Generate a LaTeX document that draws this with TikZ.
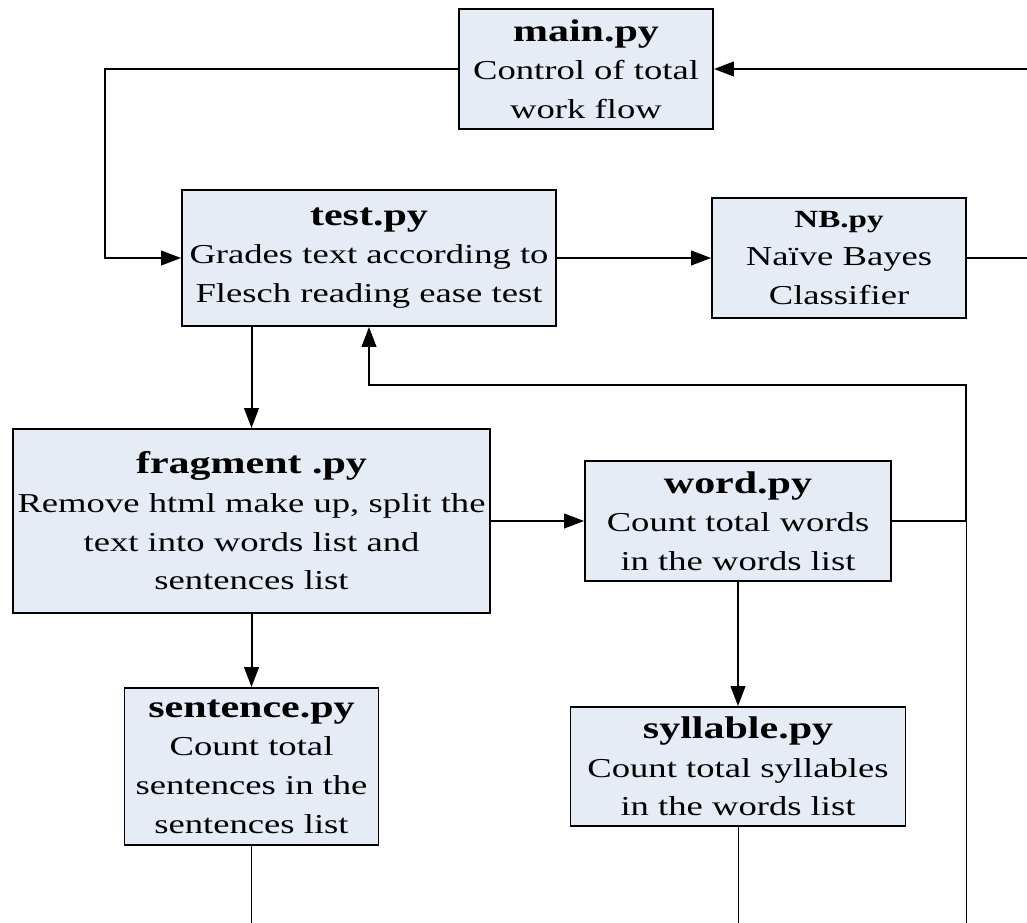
\documentclass[tikz,border=0pt]{standalone}
\usepackage{fontspec}
\setmainfont{Liberation Serif}[FakeStretch=1.34]
\usetikzlibrary{arrows.meta}
\definecolor{boxfill}{RGB}{230,236,246}
\newcommand\bodytext{\fontsize{20.5pt}{29pt}\selectfont}
\newcommand\headtext{\fontsize{23.5pt}{29pt}\selectfont\bfseries}
\newcommand\smallhead{\fontsize{18.5pt}{29pt}\selectfont\bfseries}
\tikzset{
  module/.style={draw=black, line width=1.4pt, fill=boxfill, align=center,
                 inner sep=0pt, font=\bodytext},
  flow/.style={line width=1.5pt, -{Triangle[length=15pt,width=11pt]}},
  wire/.style={line width=1.5pt},
  lead/.style={line width=0.6pt},
}
\begin{document}
\begin{tikzpicture}[x=0.75pt,y=-0.75pt]
  \path[fill=white, use as bounding box] (0,0) rectangle (1027,923);

  % modules
  \node[module, minimum width=190.5pt, minimum height=90pt] (main) at (586,69)
    {{\headtext main.py}\\Control of total\\work flow};
  \node[module, minimum width=280.5pt, minimum height=102pt] (test) at (369,258)
    {{\headtext test.py}\\Grades text according to\\Flesch reading ease test};
  \node[module, minimum width=190.5pt, minimum height=90pt] (nb) at (839,258)
    {{\smallhead NB.py}\\Naïve Bayes\\Classifier};
  \node[module, minimum width=357.75pt, minimum height=138pt] (frag) at (251.5,521)
    {{\headtext fragment .py}\\Remove html make up, split the\\text into words list and\\sentences list};
  \node[module, minimum width=229.5pt, minimum height=90pt] (word) at (738,521)
    {{\headtext word.py}\\Count total words\\in the words list};
  \node[module, minimum width=190.5pt, minimum height=117.75pt] (sent) at (251.5,766.5)
    {{\headtext sentence.py}\\Count total\\sentences in the\\sentences list};
  \node[module, minimum width=251.25pt, minimum height=89.25pt] (syl) at (738,766.5)
    {{\headtext syllable.py}\\Count total syllables\\in the words list};

  % routing points
  \coordinate (loopL) at (105,258);
  \coordinate (nbOut) at (1027,258);
  \coordinate (mainIn) at (1027,69);
  \coordinate (retR) at (966,385);
  \coordinate (retB) at (966,923);
  \coordinate (floor) at (0,923);

  % control flow
  \draw[flow] (main.west) -| (loopL) -- (test.west);
  \draw[flow] (test.east) -- (nb.west);
  \draw[wire] (nb.east) -- (nbOut);
  \draw[flow] (mainIn) -- (main.east);
  \draw[flow] (frag.north |- test.south) -- (frag.north);
  \draw[flow] (frag.east) -- (word.west);
  \draw[flow] (word.east) -| (retR) -| (test.south);
  \draw[flow] (frag.south) -- (sent.north);
  \draw[flow] (word.south) -- (syl.north);

  % leads running off the bottom
  \draw[lead] (sent.south) -- (sent.south |- floor);
  \draw[lead] (syl.south) -- (syl.south |- floor);
  \draw[lead] (word.east -| retB) -- (retB);
\end{tikzpicture}
\end{document}
